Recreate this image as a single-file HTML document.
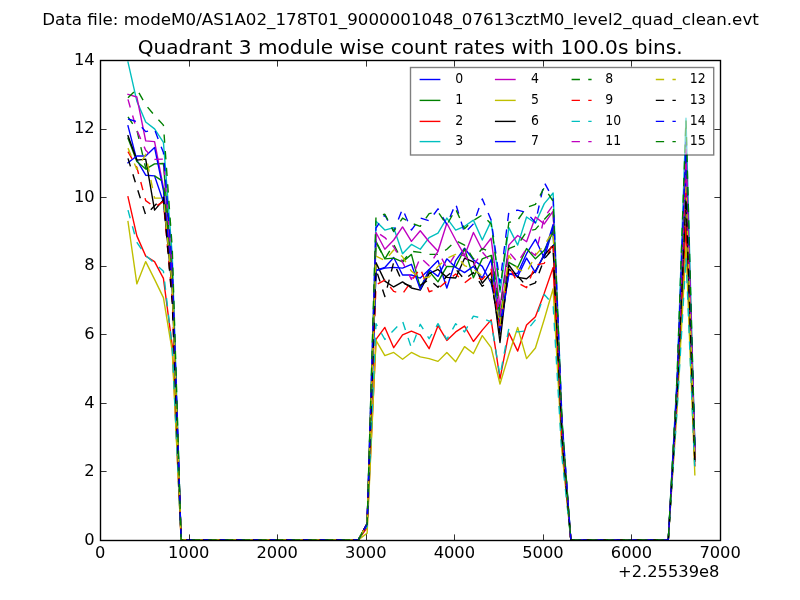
<!DOCTYPE html>
<html><head><meta charset="utf-8"><title>Quadrant 3 module wise count rates</title>
<style>html,body{margin:0;padding:0;background:#fff;}svg{display:block;}text{font-family:"DejaVu Sans","Liberation Sans",sans-serif;fill:#000;}</style>
</head><body>
<svg width="800" height="600" viewBox="0 0 800 600">
<rect width="800" height="600" fill="#fff"/>
<defs><clipPath id="ax"><rect x="100" y="60" width="620" height="480"/></clipPath></defs>
<g clip-path="url(#ax)" fill="none" stroke-width="1.39" stroke-linejoin="round">
<polyline points="127.99,125.83 136.85,160.11 145.70,175.20 154.56,175.89 163.42,201.94 172.27,279.43 181.13,540.00 189.99,540.00 198.85,540.00 207.70,540.00 216.56,540.00 225.42,540.00 234.27,540.00 243.13,540.00 251.99,540.00 260.85,540.00 269.70,540.00 278.56,540.00 287.42,540.00 296.27,540.00 305.13,540.00 313.99,540.00 322.85,540.00 331.70,540.00 340.56,540.00 349.42,540.00 358.27,540.00 367.13,523.89 375.99,270.51 384.85,267.43 393.70,257.49 402.56,274.97 411.42,274.97 420.27,278.06 429.13,269.49 437.99,260.57 446.85,288.00 455.70,260.57 464.56,248.23 473.42,259.89 482.27,266.40 491.13,283.20 499.99,324.00 508.85,274.29 517.70,273.26 526.56,253.71 535.42,239.31 544.27,258.17 553.13,228.00 561.99,430.80 570.85,540.00 579.70,540.00 588.56,540.00 597.42,540.00 606.27,540.00 615.13,540.00 623.99,540.00 632.85,540.00 641.70,540.00 650.56,540.00 659.42,540.00 668.27,540.00 677.13,387.28 685.99,166.29 694.85,445.03" stroke="#0000ff" stroke-linecap="square"/>
<polyline points="127.99,138.17 136.85,161.49 145.70,169.03 154.56,163.89 163.42,163.54 172.27,272.57 181.13,540.00 189.99,540.00 198.85,540.00 207.70,540.00 216.56,540.00 225.42,540.00 234.27,540.00 243.13,540.00 251.99,540.00 260.85,540.00 269.70,540.00 278.56,540.00 287.42,540.00 296.27,540.00 305.13,540.00 313.99,540.00 322.85,540.00 331.70,540.00 340.56,540.00 349.42,540.00 358.27,540.00 367.13,523.89 375.99,241.37 384.85,258.86 393.70,258.17 402.56,261.94 411.42,254.40 420.27,287.66 429.13,271.20 437.99,281.83 446.85,266.40 455.70,266.74 464.56,248.91 473.42,277.71 482.27,258.86 491.13,255.43 499.99,317.14 508.85,262.29 517.70,267.43 526.56,248.57 535.42,258.86 544.27,250.29 553.13,231.43 561.99,432.00 570.85,540.00 579.70,540.00 588.56,540.00 597.42,540.00 606.27,540.00 615.13,540.00 623.99,540.00 632.85,540.00 641.70,540.00 650.56,540.00 659.42,540.00 668.27,540.00 677.13,386.43 685.99,162.86 694.85,454.29" stroke="#008000" stroke-linecap="square"/>
<polyline points="127.99,196.80 136.85,235.89 145.70,256.11 154.56,261.60 163.42,278.40 172.27,345.94 181.13,540.00 189.99,540.00 198.85,540.00 207.70,540.00 216.56,540.00 225.42,540.00 234.27,540.00 243.13,540.00 251.99,540.00 260.85,540.00 269.70,540.00 278.56,540.00 287.42,540.00 296.27,540.00 305.13,540.00 313.99,540.00 322.85,540.00 331.70,540.00 340.56,540.00 349.42,540.00 358.27,540.00 367.13,527.66 375.99,339.43 384.85,327.43 393.70,347.66 402.56,334.97 411.42,331.20 420.27,334.97 429.13,348.69 437.99,325.71 446.85,340.46 455.70,331.89 464.56,326.06 473.42,341.49 482.27,330.17 491.13,319.89 499.99,378.86 508.85,332.91 517.70,351.09 526.56,325.03 535.42,316.80 544.27,293.14 553.13,267.43 561.99,444.60 570.85,540.00 579.70,540.00 588.56,540.00 597.42,540.00 606.27,540.00 615.13,540.00 623.99,540.00 632.85,540.00 641.70,540.00 650.56,540.00 659.42,540.00 668.27,540.00 677.13,401.67 685.99,224.57 694.85,465.94" stroke="#ff0000" stroke-linecap="square"/>
<polyline points="127.99,62.06 136.85,101.14 145.70,122.06 154.56,128.91 163.42,142.29 172.27,255.43 181.13,540.00 189.99,540.00 198.85,540.00 207.70,540.00 216.56,540.00 225.42,540.00 234.27,540.00 243.13,540.00 251.99,540.00 260.85,540.00 269.70,540.00 278.56,540.00 287.42,540.00 296.27,540.00 305.13,540.00 313.99,540.00 322.85,540.00 331.70,540.00 340.56,540.00 349.42,540.00 358.27,540.00 367.13,523.89 375.99,221.14 384.85,230.06 393.70,227.66 402.56,253.71 411.42,244.46 420.27,249.26 429.13,237.60 437.99,233.14 446.85,218.06 455.70,230.06 464.56,226.29 473.42,220.11 482.27,240.00 491.13,221.14 499.99,292.11 508.85,227.66 517.70,245.14 526.56,217.03 535.42,223.20 544.27,203.66 553.13,193.03 561.99,418.56 570.85,540.00 579.70,540.00 588.56,540.00 597.42,540.00 606.27,540.00 615.13,540.00 623.99,540.00 632.85,540.00 641.70,540.00 650.56,540.00 659.42,540.00 668.27,540.00 677.13,375.43 685.99,118.29 694.85,447.43" stroke="#00bfbf" stroke-linecap="square"/>
<polyline points="127.99,94.29 136.85,97.03 145.70,140.91 154.56,141.60 163.42,187.54 172.27,272.57 181.13,540.00 189.99,540.00 198.85,540.00 207.70,540.00 216.56,540.00 225.42,540.00 234.27,540.00 243.13,540.00 251.99,540.00 260.85,540.00 269.70,540.00 278.56,540.00 287.42,540.00 296.27,540.00 305.13,540.00 313.99,540.00 322.85,540.00 331.70,540.00 340.56,540.00 349.42,540.00 358.27,540.00 367.13,523.89 375.99,232.46 384.85,249.26 393.70,240.00 402.56,226.97 411.42,241.37 420.27,230.74 429.13,241.71 437.99,251.31 446.85,223.20 455.70,240.00 464.56,255.43 473.42,232.46 482.27,249.94 491.13,238.29 499.99,306.86 508.85,245.14 517.70,235.54 526.56,241.71 535.42,217.03 544.27,223.89 553.13,211.20 561.99,424.92 570.85,540.00 579.70,540.00 588.56,540.00 597.42,540.00 606.27,540.00 615.13,540.00 623.99,540.00 632.85,540.00 641.70,540.00 650.56,540.00 659.42,540.00 668.27,540.00 677.13,383.05 685.99,149.14 694.85,450.86" stroke="#bf00bf" stroke-linecap="square"/>
<polyline points="127.99,221.49 136.85,283.89 145.70,261.60 154.56,279.43 163.42,297.60 172.27,351.43 181.13,540.00 189.99,540.00 198.85,540.00 207.70,540.00 216.56,540.00 225.42,540.00 234.27,540.00 243.13,540.00 251.99,540.00 260.85,540.00 269.70,540.00 278.56,540.00 287.42,540.00 296.27,540.00 305.13,540.00 313.99,540.00 322.85,540.00 331.70,540.00 340.56,540.00 349.42,540.00 358.27,540.00 367.13,533.14 375.99,340.46 384.85,355.54 393.70,352.46 402.56,359.31 411.42,352.46 420.27,356.91 429.13,358.63 437.99,361.37 446.85,352.46 455.70,361.71 464.56,346.63 473.42,353.49 482.27,335.66 491.13,347.66 499.99,384.00 508.85,354.51 517.70,327.43 526.56,358.63 535.42,348.00 544.27,319.20 553.13,288.69 561.99,452.04 570.85,540.00 579.70,540.00 588.56,540.00 597.42,540.00 606.27,540.00 615.13,540.00 623.99,540.00 632.85,540.00 641.70,540.00 650.56,540.00 659.42,540.00 668.27,540.00 677.13,407.17 685.99,246.86 694.85,474.86" stroke="#bfbf00" stroke-linecap="square"/>
<polyline points="127.99,135.77 136.85,160.11 145.70,159.09 154.56,210.17 163.42,199.89 172.27,289.71 181.13,540.00 189.99,540.00 198.85,540.00 207.70,540.00 216.56,540.00 225.42,540.00 234.27,540.00 243.13,540.00 251.99,540.00 260.85,540.00 269.70,540.00 278.56,540.00 287.42,540.00 296.27,540.00 305.13,540.00 313.99,540.00 322.85,540.00 331.70,540.00 340.56,540.00 349.42,540.00 358.27,540.00 367.13,523.89 375.99,262.63 384.85,281.14 393.70,286.97 402.56,281.83 411.42,288.00 420.27,290.06 429.13,273.60 437.99,269.49 446.85,277.37 455.70,278.06 464.56,258.17 473.42,261.94 482.27,283.20 491.13,272.57 499.99,342.51 508.85,265.03 517.70,277.37 526.56,278.74 535.42,271.20 544.27,255.09 553.13,245.49 561.99,436.92 570.85,540.00 579.70,540.00 588.56,540.00 597.42,540.00 606.27,540.00 615.13,540.00 623.99,540.00 632.85,540.00 641.70,540.00 650.56,540.00 659.42,540.00 668.27,540.00 677.13,394.05 685.99,193.71 694.85,461.14" stroke="#000000" stroke-linecap="square"/>
<polyline points="127.99,162.86 136.85,156.00 145.70,156.00 154.56,147.43 163.42,190.29 172.27,282.86 181.13,540.00 189.99,540.00 198.85,540.00 207.70,540.00 216.56,540.00 225.42,540.00 234.27,540.00 243.13,540.00 251.99,540.00 260.85,540.00 269.70,540.00 278.56,540.00 287.42,540.00 296.27,540.00 305.13,540.00 313.99,540.00 322.85,540.00 331.70,540.00 340.56,540.00 349.42,540.00 358.27,540.00 367.13,523.89 375.99,270.51 384.85,268.11 393.70,267.43 402.56,268.11 411.42,264.34 420.27,289.37 429.13,269.49 437.99,276.34 446.85,258.86 455.70,267.43 464.56,272.57 473.42,266.40 482.27,278.06 491.13,259.54 499.99,330.86 508.85,273.60 517.70,276.34 526.56,258.17 535.42,272.57 544.27,253.71 553.13,224.57 561.99,429.60 570.85,540.00 579.70,540.00 588.56,540.00 597.42,540.00 606.27,540.00 615.13,540.00 623.99,540.00 632.85,540.00 641.70,540.00 650.56,540.00 659.42,540.00 668.27,540.00 677.13,388.13 685.99,169.71 694.85,450.86" stroke="#0000ff" stroke-linecap="square"/>
<polyline points="127.99,116.91 136.85,129.94 145.70,168.00 154.56,175.89 163.42,181.71 172.27,276.00 181.13,540.00 189.99,540.00 198.85,540.00 207.70,540.00 216.56,540.00 225.42,540.00 234.27,540.00 243.13,540.00 251.99,540.00 260.85,540.00 269.70,540.00 278.56,540.00 287.42,540.00 296.27,540.00 305.13,540.00 313.99,540.00 322.85,540.00 331.70,540.00 340.56,540.00 349.42,540.00 358.27,540.00 367.13,523.89 375.99,242.40 384.85,258.86 393.70,244.46 402.56,261.26 411.42,251.31 420.27,252.34 429.13,254.40 437.99,254.40 446.85,249.26 455.70,240.69 464.56,245.14 473.42,258.86 482.27,248.57 491.13,252.00 499.99,310.29 508.85,248.57 517.70,245.14 526.56,231.43 535.42,229.37 544.27,219.43 553.13,209.83 561.99,424.44 570.85,540.00 579.70,540.00 588.56,540.00 597.42,540.00 606.27,540.00 615.13,540.00 623.99,540.00 632.85,540.00 641.70,540.00 650.56,540.00 659.42,540.00 668.27,540.00 677.13,383.89 685.99,152.57 694.85,454.29" stroke="#008000" stroke-dasharray="8.33 8.33"/>
<polyline points="127.99,151.54 136.85,167.31 145.70,200.57 154.56,207.09 163.42,201.60 172.27,300.00 181.13,540.00 189.99,540.00 198.85,540.00 207.70,540.00 216.56,540.00 225.42,540.00 234.27,540.00 243.13,540.00 251.99,540.00 260.85,540.00 269.70,540.00 278.56,540.00 287.42,540.00 296.27,540.00 305.13,540.00 313.99,540.00 322.85,540.00 331.70,540.00 340.56,540.00 349.42,540.00 358.27,540.00 367.13,523.89 375.99,284.91 384.85,280.11 393.70,291.43 402.56,293.83 411.42,281.14 420.27,268.11 429.13,291.77 437.99,288.69 446.85,281.14 455.70,273.94 464.56,282.86 473.42,276.00 482.27,279.43 491.13,269.14 499.99,330.17 508.85,265.71 517.70,282.86 526.56,287.66 535.42,265.03 544.27,263.31 553.13,242.40 561.99,435.84 570.85,540.00 579.70,540.00 588.56,540.00 597.42,540.00 606.27,540.00 615.13,540.00 623.99,540.00 632.85,540.00 641.70,540.00 650.56,540.00 659.42,540.00 668.27,540.00 677.13,389.82 685.99,176.57 694.85,457.71" stroke="#ff0000" stroke-dasharray="8.33 8.33"/>
<polyline points="127.99,210.17 136.85,242.40 145.70,255.43 154.56,263.31 163.42,271.20 172.27,348.00 181.13,540.00 189.99,540.00 198.85,540.00 207.70,540.00 216.56,540.00 225.42,540.00 234.27,540.00 243.13,540.00 251.99,540.00 260.85,540.00 269.70,540.00 278.56,540.00 287.42,540.00 296.27,540.00 305.13,540.00 313.99,540.00 322.85,540.00 331.70,540.00 340.56,540.00 349.42,540.00 358.27,540.00 367.13,526.29 375.99,323.66 384.85,339.43 393.70,330.17 402.56,321.26 411.42,348.00 420.27,324.34 429.13,338.74 437.99,323.66 446.85,339.43 455.70,323.66 464.56,331.89 473.42,316.11 482.27,318.17 491.13,321.94 499.99,376.11 508.85,328.46 517.70,331.89 526.56,330.86 535.42,319.89 544.27,294.51 553.13,304.46 561.99,457.56 570.85,540.00 579.70,540.00 588.56,540.00 597.42,540.00 606.27,540.00 615.13,540.00 623.99,540.00 632.85,540.00 641.70,540.00 650.56,540.00 659.42,540.00 668.27,540.00 677.13,409.71 685.99,257.14 694.85,471.43" stroke="#00bfbf" stroke-dasharray="8.33 8.33"/>
<polyline points="127.99,99.43 136.85,130.29 145.70,150.17 154.56,159.43 163.42,159.09 172.27,269.14 181.13,540.00 189.99,540.00 198.85,540.00 207.70,540.00 216.56,540.00 225.42,540.00 234.27,540.00 243.13,540.00 251.99,540.00 260.85,540.00 269.70,540.00 278.56,540.00 287.42,540.00 296.27,540.00 305.13,540.00 313.99,540.00 322.85,540.00 331.70,540.00 340.56,540.00 349.42,540.00 358.27,540.00 367.13,523.89 375.99,231.77 384.85,237.60 393.70,246.86 402.56,262.29 411.42,279.43 420.27,257.49 429.13,265.71 437.99,251.31 446.85,268.11 455.70,253.71 464.56,255.77 473.42,265.71 482.27,252.00 491.13,262.29 499.99,315.43 508.85,252.00 517.70,262.29 526.56,248.57 535.42,255.43 544.27,217.37 553.13,205.03 561.99,422.76 570.85,540.00 579.70,540.00 588.56,540.00 597.42,540.00 606.27,540.00 615.13,540.00 623.99,540.00 632.85,540.00 641.70,540.00 650.56,540.00 659.42,540.00 668.27,540.00 677.13,384.74 685.99,156.00 694.85,452.57" stroke="#bf00bf" stroke-dasharray="8.33 8.33"/>
<polyline points="127.99,148.11 136.85,169.37 145.70,154.29 154.56,198.17 163.42,198.17 172.27,286.29 181.13,540.00 189.99,540.00 198.85,540.00 207.70,540.00 216.56,540.00 225.42,540.00 234.27,540.00 243.13,540.00 251.99,540.00 260.85,540.00 269.70,540.00 278.56,540.00 287.42,540.00 296.27,540.00 305.13,540.00 313.99,540.00 322.85,540.00 331.70,540.00 340.56,540.00 349.42,540.00 358.27,540.00 367.13,523.89 375.99,256.11 384.85,260.57 393.70,249.94 402.56,256.80 411.42,271.20 420.27,278.06 429.13,277.03 437.99,266.40 446.85,258.17 455.70,254.40 464.56,265.71 473.42,269.14 482.27,276.00 491.13,279.43 499.99,325.71 508.85,255.43 517.70,269.14 526.56,272.57 535.42,255.43 544.27,245.14 553.13,231.43 561.99,432.00 570.85,540.00 579.70,540.00 588.56,540.00 597.42,540.00 606.27,540.00 615.13,540.00 623.99,540.00 632.85,540.00 641.70,540.00 650.56,540.00 659.42,540.00 668.27,540.00 677.13,392.36 685.99,186.86 694.85,459.43" stroke="#bfbf00" stroke-dasharray="8.33 8.33"/>
<polyline points="127.99,158.40 136.85,187.20 145.70,214.97 154.56,205.71 163.42,197.14 172.27,303.43 181.13,540.00 189.99,540.00 198.85,540.00 207.70,540.00 216.56,540.00 225.42,540.00 234.27,540.00 243.13,540.00 251.99,540.00 260.85,540.00 269.70,540.00 278.56,540.00 287.42,540.00 296.27,540.00 305.13,540.00 313.99,540.00 322.85,540.00 331.70,540.00 340.56,540.00 349.42,540.00 358.27,540.00 367.13,523.89 375.99,269.14 384.85,296.57 393.70,262.29 402.56,282.86 411.42,286.29 420.27,285.26 429.13,279.43 437.99,287.31 446.85,276.00 455.70,269.14 464.56,279.43 473.42,272.57 482.27,286.29 491.13,279.43 499.99,334.29 508.85,269.14 517.70,276.00 526.56,286.29 535.42,282.86 544.27,258.86 553.13,248.57 561.99,438.00 570.85,540.00 579.70,540.00 588.56,540.00 597.42,540.00 606.27,540.00 615.13,540.00 623.99,540.00 632.85,540.00 641.70,540.00 650.56,540.00 659.42,540.00 668.27,540.00 677.13,394.90 685.99,197.14 694.85,461.14" stroke="#000000" stroke-dasharray="8.33 8.33"/>
<polyline points="127.99,118.97 136.85,121.71 145.70,131.66 154.56,129.60 163.42,152.57 172.27,265.71 181.13,540.00 189.99,540.00 198.85,540.00 207.70,540.00 216.56,540.00 225.42,540.00 234.27,540.00 243.13,540.00 251.99,540.00 260.85,540.00 269.70,540.00 278.56,540.00 287.42,540.00 296.27,540.00 305.13,540.00 313.99,540.00 322.85,540.00 331.70,540.00 340.56,540.00 349.42,540.00 358.27,540.00 367.13,523.89 375.99,228.00 384.85,214.97 393.70,231.43 402.56,208.80 411.42,230.06 420.27,218.06 429.13,220.80 437.99,208.80 446.85,224.57 455.70,203.66 464.56,233.14 473.42,223.89 482.27,198.86 491.13,220.11 499.99,282.86 508.85,211.89 517.70,210.17 526.56,212.57 535.42,222.51 544.27,182.40 553.13,198.86 561.99,420.60 570.85,540.00 579.70,540.00 588.56,540.00 597.42,540.00 606.27,540.00 615.13,540.00 623.99,540.00 632.85,540.00 641.70,540.00 650.56,540.00 659.42,540.00 668.27,540.00 677.13,381.35 685.99,142.29 694.85,447.43" stroke="#0000ff" stroke-dasharray="8.33 8.33"/>
<polyline points="127.99,97.71 136.85,89.14 145.70,104.91 154.56,115.54 163.42,125.14 172.27,248.57 181.13,540.00 189.99,540.00 198.85,540.00 207.70,540.00 216.56,540.00 225.42,540.00 234.27,540.00 243.13,540.00 251.99,540.00 260.85,540.00 269.70,540.00 278.56,540.00 287.42,540.00 296.27,540.00 305.13,540.00 313.99,540.00 322.85,540.00 331.70,540.00 340.56,540.00 349.42,540.00 358.27,540.00 367.13,523.89 375.99,216.34 384.85,214.29 393.70,231.43 402.56,218.06 411.42,223.20 420.27,226.29 429.13,213.60 437.99,211.89 446.85,224.91 455.70,209.14 464.56,228.69 473.42,220.46 482.27,214.97 491.13,223.89 499.99,289.71 508.85,222.51 517.70,220.11 526.56,207.43 535.42,204.34 544.27,187.54 553.13,201.26 561.99,421.44 570.85,540.00 579.70,540.00 588.56,540.00 597.42,540.00 606.27,540.00 615.13,540.00 623.99,540.00 632.85,540.00 641.70,540.00 650.56,540.00 659.42,540.00 668.27,540.00 677.13,375.85 685.99,120.00 694.85,449.14" stroke="#008000" stroke-dasharray="8.33 8.33"/>
</g>
<g stroke="#000" stroke-width="0.8" fill="none">
<path d="M189.50 540.50v-6.1M189.50 60.50v6.1"/>
<path d="M277.50 540.50v-6.1M277.50 60.50v6.1"/>
<path d="M366.50 540.50v-6.1M366.50 60.50v6.1"/>
<path d="M454.50 540.50v-6.1M454.50 60.50v6.1"/>
<path d="M543.50 540.50v-6.1M543.50 60.50v6.1"/>
<path d="M631.50 540.50v-6.1M631.50 60.50v6.1"/>
<path d="M100.50 471.50h6.1M720.50 471.50h-6.1"/>
<path d="M100.50 403.50h6.1M720.50 403.50h-6.1"/>
<path d="M100.50 334.50h6.1M720.50 334.50h-6.1"/>
<path d="M100.50 266.50h6.1M720.50 266.50h-6.1"/>
<path d="M100.50 197.50h6.1M720.50 197.50h-6.1"/>
<path d="M100.50 129.50h6.1M720.50 129.50h-6.1"/>
</g>
<rect x="100.5" y="60.5" width="620.0" height="480.0" fill="none" stroke="#000" stroke-width="1.39"/>
<g font-size="16.3px">
<text x="100.10" y="557.7" text-anchor="middle">0</text>
<text x="188.67" y="557.7" text-anchor="middle">1000</text>
<text x="277.24" y="557.7" text-anchor="middle">2000</text>
<text x="365.81" y="557.7" text-anchor="middle">3000</text>
<text x="454.39" y="557.7" text-anchor="middle">4000</text>
<text x="542.96" y="557.7" text-anchor="middle">5000</text>
<text x="631.53" y="557.7" text-anchor="middle">6000</text>
<text x="720.10" y="557.7" text-anchor="middle">7000</text>
<text x="94.6" y="544.70" text-anchor="end">0</text>
<text x="94.6" y="476.13" text-anchor="end">2</text>
<text x="94.6" y="407.56" text-anchor="end">4</text>
<text x="94.6" y="338.99" text-anchor="end">6</text>
<text x="94.6" y="270.41" text-anchor="end">8</text>
<text x="94.6" y="201.84" text-anchor="end">10</text>
<text x="94.6" y="133.27" text-anchor="end">12</text>
<text x="94.6" y="64.70" text-anchor="end">14</text>
<text x="719.4" y="577.4" text-anchor="end">+2.25539e8</text>
</g>
<text x="410.15" y="53.8" text-anchor="middle" font-size="20.08px">Quadrant 3 module wise count rates with 100.0s bins.</text>
<text x="400.5" y="24.6" text-anchor="middle" font-size="16.715px">Data file: modeM0/AS1A02_178T01_9000001048_07613cztM0_level2_quad_clean.evt</text>
<g>
<rect x="410.5" y="67.5" width="303.2" height="87.5" fill="#fff" fill-opacity="0.5" stroke="#000" stroke-opacity="0.5" stroke-width="1.39"/>
<path d="M420.30 79.50h19.4" stroke="#0000ff" stroke-width="1.39" stroke-linecap="square" fill="none"/>
<text transform="translate(455.20 83.20) scale(1 1.1)" font-size="12.5px">0</text>
<path d="M420.30 100.40h19.4" stroke="#008000" stroke-width="1.39" stroke-linecap="square" fill="none"/>
<text transform="translate(455.20 104.10) scale(1 1.1)" font-size="12.5px">1</text>
<path d="M420.30 121.40h19.4" stroke="#ff0000" stroke-width="1.39" stroke-linecap="square" fill="none"/>
<text transform="translate(455.20 125.10) scale(1 1.1)" font-size="12.5px">2</text>
<path d="M420.30 141.60h19.4" stroke="#00bfbf" stroke-width="1.39" stroke-linecap="square" fill="none"/>
<text transform="translate(455.20 145.30) scale(1 1.1)" font-size="12.5px">3</text>
<path d="M495.60 79.50h19.4" stroke="#bf00bf" stroke-width="1.39" stroke-linecap="square" fill="none"/>
<text transform="translate(531.00 83.20) scale(1 1.1)" font-size="12.5px">4</text>
<path d="M495.60 100.40h19.4" stroke="#bfbf00" stroke-width="1.39" stroke-linecap="square" fill="none"/>
<text transform="translate(531.00 104.10) scale(1 1.1)" font-size="12.5px">5</text>
<path d="M495.60 121.40h19.4" stroke="#000000" stroke-width="1.39" stroke-linecap="square" fill="none"/>
<text transform="translate(531.00 125.10) scale(1 1.1)" font-size="12.5px">6</text>
<path d="M495.60 141.60h19.4" stroke="#0000ff" stroke-width="1.39" stroke-linecap="square" fill="none"/>
<text transform="translate(531.00 145.30) scale(1 1.1)" font-size="12.5px">7</text>
<path d="M571.60 79.50h20" stroke="#008000" stroke-width="1.39" stroke-dasharray="8.33 8.33" fill="none"/>
<text transform="translate(605.30 83.20) scale(1 1.1)" font-size="12.5px">8</text>
<path d="M571.60 100.40h20" stroke="#ff0000" stroke-width="1.39" stroke-dasharray="8.33 8.33" fill="none"/>
<text transform="translate(605.30 104.10) scale(1 1.1)" font-size="12.5px">9</text>
<path d="M571.60 121.40h20" stroke="#00bfbf" stroke-width="1.39" stroke-dasharray="8.33 8.33" fill="none"/>
<text transform="translate(605.30 125.10) scale(1 1.1)" font-size="12.5px">10</text>
<path d="M571.60 141.60h20" stroke="#bf00bf" stroke-width="1.39" stroke-dasharray="8.33 8.33" fill="none"/>
<text transform="translate(605.30 145.30) scale(1 1.1)" font-size="12.5px">11</text>
<path d="M655.80 79.50h20" stroke="#bfbf00" stroke-width="1.39" stroke-dasharray="8.33 8.33" fill="none"/>
<text transform="translate(689.70 83.20) scale(1 1.1)" font-size="12.5px">12</text>
<path d="M655.80 100.40h20" stroke="#000000" stroke-width="1.39" stroke-dasharray="8.33 8.33" fill="none"/>
<text transform="translate(689.70 104.10) scale(1 1.1)" font-size="12.5px">13</text>
<path d="M655.80 121.40h20" stroke="#0000ff" stroke-width="1.39" stroke-dasharray="8.33 8.33" fill="none"/>
<text transform="translate(689.70 125.10) scale(1 1.1)" font-size="12.5px">14</text>
<path d="M655.80 141.60h20" stroke="#008000" stroke-width="1.39" stroke-dasharray="8.33 8.33" fill="none"/>
<text transform="translate(689.70 145.30) scale(1 1.1)" font-size="12.5px">15</text>
</g>
</svg></body></html>
